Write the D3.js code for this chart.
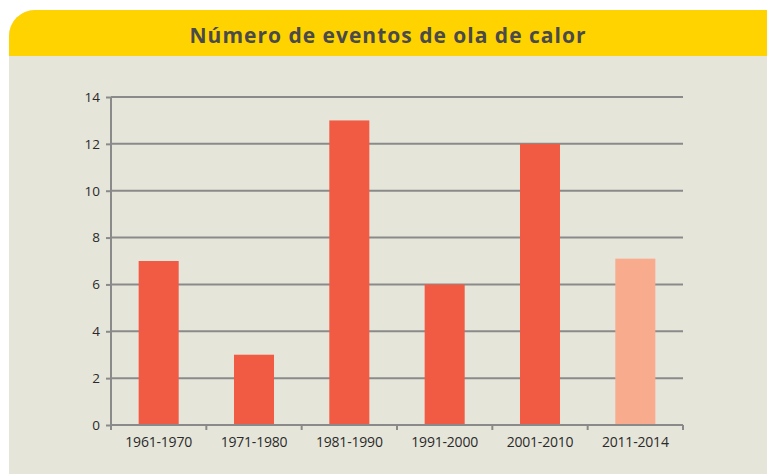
<!DOCTYPE html>
<html><head><meta charset="utf-8">
<script src="https://cdn.jsdelivr.net/npm/d3@7"></script>
<style>html,body{margin:0;padding:0;background:#fff;}svg{display:block;}</style>
</head><body>
<svg id="c" width="767" height="474"></svg>
<script>
const title = "Número de eventos de ola de calor";
const categories = ["1961-1970","1971-1980","1981-1990","1991-2000","2001-2010","2011-2014"];
const values = [7, 3, 13, 6, 12, 7.1];
const barColors = ["#F25B43","#F25B43","#F25B43","#F25B43","#F25B43","#F9AB8D"];
const yTicks = [0,2,4,6,8,10,12,14];

const svg = d3.select("#c");
const px = 9, py = 10, pw = 790, ph = 490, r = 26;
svg.append("defs").append("clipPath").attr("id", "pclip")
  .append("rect").attr("x", px).attr("y", py).attr("width", pw).attr("height", ph).attr("rx", r).attr("ry", r);
const panel = svg.append("g").attr("clip-path", "url(#pclip)");
panel.append("rect").attr("x", px).attr("y", py).attr("width", pw).attr("height", ph).attr("fill", "#E6E5DA");
panel.append("rect").attr("x", px).attr("y", py).attr("width", pw).attr("height", 46).attr("fill", "#FFD300");
svg.append("text").attr("x", 388).attr("y", 42.5).attr("text-anchor", "middle")
  .attr("font-family", "'Open Sans', sans-serif").attr("font-weight", 700)
  .attr("font-size", 21).attr("fill", "#4A4A4A").attr("letter-spacing", 1.0).text(title);

const x = d3.scaleBand().domain(categories).range([111, 683]).paddingInner(0.58).paddingOuter(0.29);
const y = d3.scaleLinear().domain([0, 14]).range([425, 97]);

const g = svg.append("g");
g.selectAll("line.grid").data(yTicks.filter(d => d > 0)).join("line")
  .attr("x1", 111).attr("x2", 683).attr("y1", d => y(d)).attr("y2", d => y(d))
  .attr("stroke", "#8A8A8A").attr("stroke-width", 2);

g.selectAll("rect.bar").data(values).join("rect")
  .attr("x", (d, i) => x(categories[i])).attr("width", x.bandwidth())
  .attr("y", d => y(d)).attr("height", d => y(0) - y(d))
  .attr("fill", (d, i) => barColors[i]);

const tickFont = "'Open Sans', sans-serif";
const yAxis = d3.axisLeft(y).tickValues(yTicks).tickSize(5).tickPadding(6).tickFormat(d3.format("d"));
const ya = svg.append("g").attr("transform", "translate(111,0)").call(yAxis);
ya.select(".domain").attr("stroke", "#8A8A8A").attr("stroke-width", 2).attr("d", `M0,${y(14)}V${y(0)}`);
ya.selectAll(".tick line").attr("stroke", "#8A8A8A").attr("stroke-width", 2);
ya.selectAll(".tick text").attr("font-family", tickFont).attr("font-size", 13.5).attr("fill", "#2A2A2A");

const xAxis = d3.axisBottom(x).tickSize(0).tickPadding(12);
const xa = svg.append("g").attr("transform", `translate(0,${y(0)})`).call(xAxis);
xa.select(".domain").attr("stroke", "#8A8A8A").attr("stroke-width", 2).attr("d", `M111,0H683`);
xa.selectAll(".tick text").attr("font-family", tickFont).attr("font-size", 14).attr("fill", "#2A2A2A").attr("letter-spacing", -0.2);
const bounds = d3.range(categories.length + 1).map(i => 111 + i * (683 - 111) / categories.length);
xa.selectAll("line.bt").data(bounds).join("line")
  .attr("x1", d => d).attr("x2", d => d).attr("y1", 0).attr("y2", 5)
  .attr("stroke", "#8A8A8A").attr("stroke-width", 2);
</script>
</body></html>
